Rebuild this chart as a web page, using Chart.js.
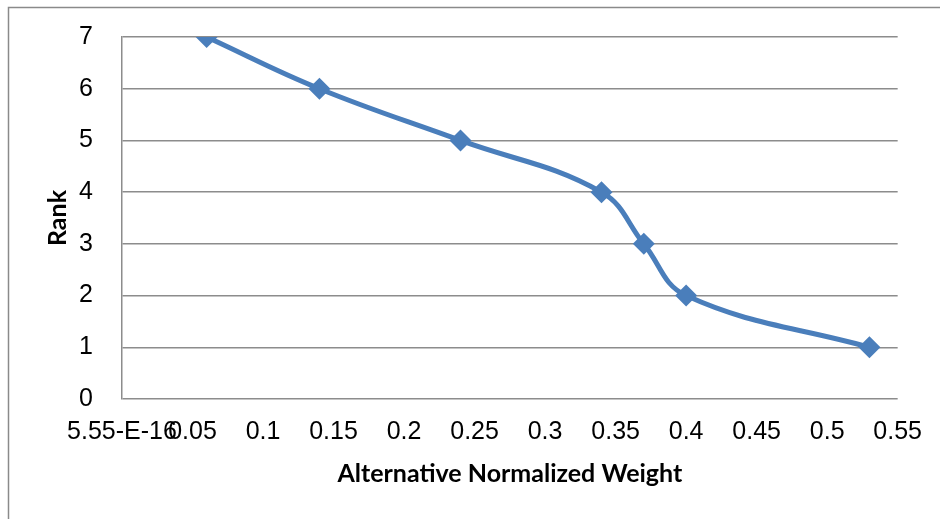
<!DOCTYPE html>
<html>
<head>
<meta charset="utf-8">
<script src="https://cdn.jsdelivr.net/npm/chart.js@4.4.1/dist/chart.umd.min.js"></script>
<style>
  html, body { margin: 0; padding: 0; background: #fff; }
  #wrap { width: 940px; height: 519px; position: relative; }
</style>
</head>
<body>
<div id="wrap"><canvas id="rankChart"></canvas></div>
<script>
  const weights = [0.06, 0.14, 0.24, 0.34, 0.37, 0.40, 0.53];
  const ranks = [7, 6, 5, 4, 3, 2, 1];
  const xTickLabels = ["5.55-E-16", "0.05", "0.1", "0.15", "0.2", "0.25", "0.3", "0.35", "0.4", "0.45", "0.5", "0.55"];
  const yTickLabels = ["0", "1", "2", "3", "4", "5", "6", "7"];

  const gridGray = "#8c8c8c";

  // outer frame like the pasted Excel chart object
  const framePlugin = {
    id: "frame",
    beforeDraw(chart) {
      const ctx = chart.ctx;
      ctx.save();
      ctx.fillStyle = "#fff";
      ctx.fillRect(0, 0, chart.width, chart.height);
      ctx.strokeStyle = "#8a8a8a";
      ctx.lineWidth = 1.5;
      ctx.strokeRect(8.5, 7.5, 2000, 2000);
      ctx.restore();
    },
  };

  new Chart(document.getElementById("rankChart"), {
    type: "line",
    data: {
      datasets: [
        {
          data: weights.map((w, i) => ({ x: w, y: ranks[i] })),
          borderColor: "#4a7ebb",
          backgroundColor: "#4a7ebb",
          borderWidth: 5,
          tension: 0.4,
          pointStyle: "rectRot",
          pointRadius: 11,
          pointHoverRadius: 11,
          pointBorderWidth: 0,
        },
      ],
    },
    options: {
      responsive: true,
      maintainAspectRatio: false,
      animation: false,
      layout: { padding: { left: 0, top: 37, right: 42, bottom: 0 } },
      plugins: {
        legend: { display: false },
        tooltip: { enabled: false },
      },
      scales: {
        x: {
          type: "linear",
          min: 0,
          max: 0.55,
          afterFit: (s) => { s.height = 120; },
          afterBuildTicks: (s) => {
            s.ticks = xTickLabels.map((_, i) => ({ value: i * 0.05 }));
          },
          grid: { display: false, drawTicks: false },
          border: { display: false },
          ticks: {
            autoSkip: false,
            maxRotation: 0,
            padding: 18,
            color: "#000",
            font: { family: "Liberation Sans", size: 25 },
            callback: (v, i) => xTickLabels[i],
          },
          title: {
            display: true,
            text: "Alternative Normalized Weight",
            color: "#000",
            font: { family: "Lato", size: 25, weight: "bold" },
            padding: { top: 0, bottom: 30 },
          },
        },
        y: {
          min: 0,
          max: 7,
          afterFit: (s) => {
            s.width = 122;
            // tick padding would otherwise push the plot top down
            s.paddingTop = 15;
            s.paddingBottom = 15;
          },
          grid: { color: gridGray, lineWidth: 1.5, drawTicks: false },
          border: { display: true, color: gridGray, width: 1.5 },
          ticks: {
            stepSize: 1,
            padding: 29,
            color: "#000",
            font: { family: "Liberation Sans", size: 25 },
            callback: (v, i) => yTickLabels[i],
          },
          title: {
            display: true,
            text: "Rank",
            color: "#000",
            font: { family: "Lato", size: 25, weight: "bold" },
            padding: { top: 43, bottom: 0 },
          },
        },
      },
    },
    plugins: [framePlugin],
  });
</script>
</body>
</html>
